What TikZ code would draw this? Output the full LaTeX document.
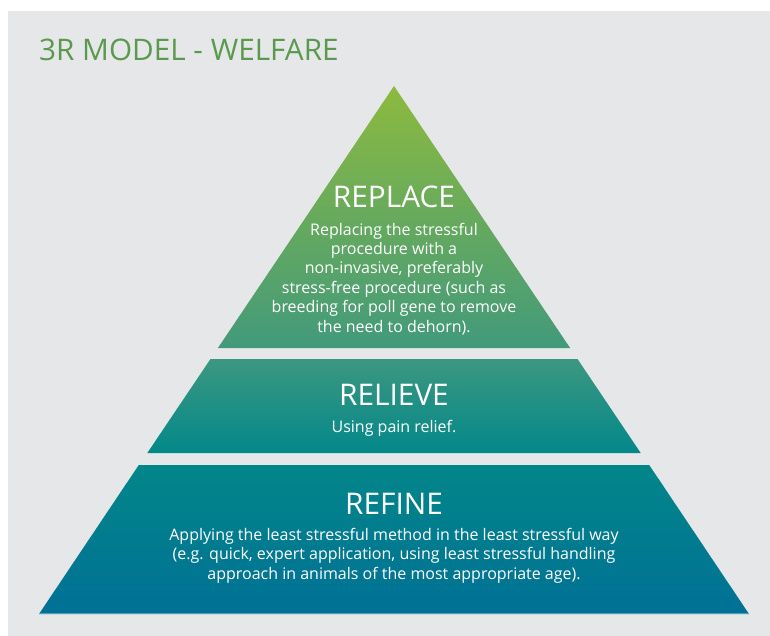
\documentclass[tikz,border=0pt]{standalone}
\usepackage{fontspec}
\setmainfont{Open Sans}
\definecolor{panelgray}{HTML}{E6E7E8}
\definecolor{titlegreen}{HTML}{5B9A4E}
\definecolor{cA}{HTML}{8DBA3F}
\definecolor{cB}{HTML}{429A7B}
\definecolor{cC}{HTML}{3C9780}
\definecolor{cD}{HTML}{03888A}
\definecolor{cE}{HTML}{028689}
\definecolor{cF}{HTML}{007196}
\definecolor{edgeline}{HTML}{6DB8C4}
\tikzset{
  headtext/.style={text=white,font=\fontsize{29.8}{32}\selectfont,inner sep=0pt,anchor=base},
  bodytext/.style={text=white,font=\fontsize{16}{19.4}\selectfont,inner sep=0pt,align=center,anchor=base},
  baseedge/.style={draw=edgeline,line width=0.8pt,opacity=0.7},
}
\begin{document}
\begin{tikzpicture}[x=1pt,y=-1pt]
\useasboundingbox (0,0) rectangle (770,636);
\fill[panelgray] (8,11) rectangle (770,636);
\node[text=titlegreen,font=\fontsize{29.7}{32}\selectfont,inner sep=0pt,anchor=base west] (title) at (39,61) {3R MODEL - WELFARE};
% top triangle
\shade[top color=cA,bottom color=cB] (394,86) -- (570.1,348) -- (217.9,348) -- cycle;
% middle trapezoid
\shade[top color=cC,bottom color=cD] (210.5,359) -- (577.5,359) -- (640.7,453) -- (147.3,453) -- cycle;
% bottom trapezoid
\shade[top color=cE,bottom color=cF] (138.8,465) -- (649.2,465) -- (749,614) -- (39,614) -- cycle;
\draw[baseedge] (39,613.6) -- (749,613.6);
\node[headtext] (replace) at (394,208) {REPLACE};
\node[bodytext] (replacetxt) at (394,332) {Replacing the stressful\\procedure with a\\non-invasive, preferably\\stress-free procedure (such as\\breeding for poll gene to remove\\the need to dehorn).};
\node[headtext] (relieve) at (394,405) {RELIEVE};
\node[bodytext] (relievetxt) at (394,432) {Using pain relief.};
\node[headtext] (refine) at (394,514) {REFINE};
\node[bodytext] (refinetxt) at (394,579) {Applying the least stressful method in the least stressful way\\(e.g. quick, expert application, using least stressful handling\\approach in animals of the most appropriate age).};
\end{tikzpicture}
\end{document}
